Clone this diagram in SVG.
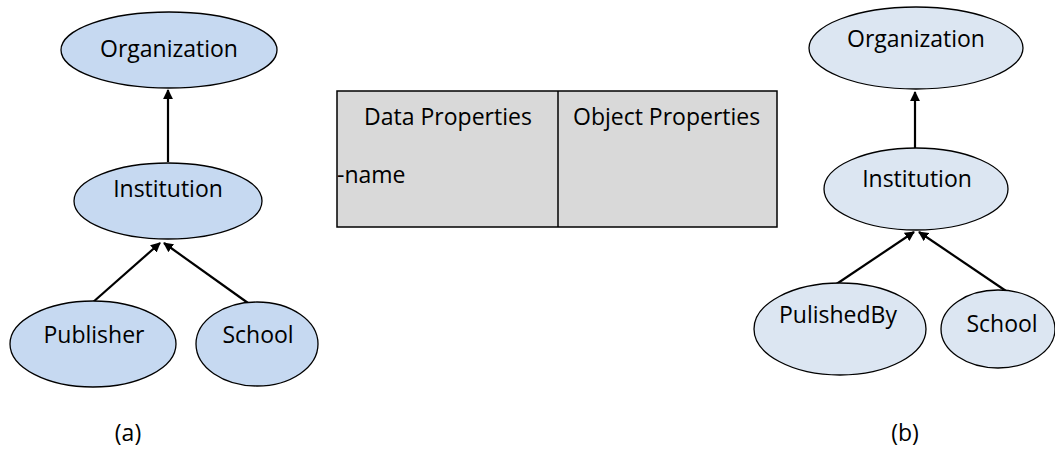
<svg xmlns="http://www.w3.org/2000/svg" width="1055" height="455" viewBox="0 0 1055 455">
<defs>
<style>
text{font-family:"Open Sans","Liberation Sans",sans-serif;font-size:23px;fill:#000}
.c{text-anchor:middle}
.na{fill:#c6d9f1;stroke:#000;stroke-width:1.3}
.nb{fill:#dce6f2;stroke:#000;stroke-width:1.3}
.e{stroke:#000;stroke-width:2.2;fill:none;marker-end:url(#ah)}
</style>
<marker id="ah" viewBox="0 0 10 10" refX="9" refY="5" markerWidth="4.5" markerHeight="4.5" orient="auto" markerUnits="strokeWidth">
<path d="M0,0 L10,5 L0,10 z" fill="#000"/>
</marker>
</defs>
<rect width="1055" height="455" fill="#fff"/>
<g id="connectors">
<line class="e" x1="168" y1="162" x2="168" y2="90"/>
<line class="e" x1="92" y1="303" x2="160" y2="243"/>
<line class="e" x1="248" y1="303" x2="164" y2="243"/>
<line class="e" x1="915" y1="148" x2="915" y2="92"/>
<line class="e" x1="835" y1="285" x2="914" y2="232"/>
<line class="e" x1="1009" y1="293" x2="919" y2="232"/>
</g>
<g id="a-organization"><ellipse class="na" cx="169" cy="50" rx="108" ry="38"/><text class="c" x="169" y="57">Organization</text></g>
<g id="a-institution"><ellipse class="na" cx="168" cy="201" rx="94" ry="38"/><text class="c" x="168" y="197">Institution</text></g>
<g id="a-publisher"><ellipse class="na" cx="93" cy="344" rx="83" ry="43"/><text class="c" x="94" y="343">Publisher</text></g>
<g id="a-school"><ellipse class="na" cx="257" cy="344" rx="61" ry="42"/><text class="c" x="258" y="343">School</text></g>
<g id="table">
<rect x="337" y="91" width="440" height="136" fill="#d9d9d9" stroke="#000" stroke-width="1.5"/>
<line x1="558" y1="91" x2="558" y2="227" stroke="#000" stroke-width="1.5"/>
<text class="c" x="448" y="125">Data Properties</text>
<text x="573" y="125">Object Properties</text>
<text x="337" y="183">-name</text>
</g>
<g id="b-organization"><ellipse class="nb" cx="916" cy="48" rx="107" ry="41"/><text class="c" x="916" y="47">Organization</text></g>
<g id="b-institution"><ellipse class="nb" cx="916" cy="189" rx="92" ry="41"/><text class="c" x="917" y="187">Institution</text></g>
<g id="b-pulishedby"><ellipse class="nb" cx="840" cy="329" rx="86" ry="46"/><text class="c" x="838" y="323">PulishedBy</text></g>
<g id="b-school"><ellipse class="nb" cx="998" cy="329" rx="57" ry="39"/><text class="c" x="1002" y="332">School</text></g>
<text class="c" x="128" y="441">(a)</text>
<text class="c" x="905" y="441">(b)</text>
</svg>
